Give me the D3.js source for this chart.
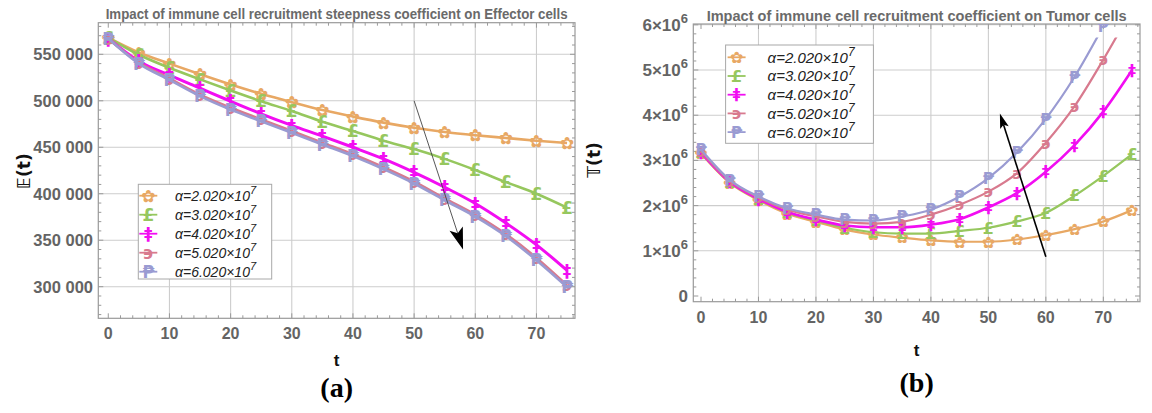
<!DOCTYPE html>
<html>
<head>
<meta charset="utf-8">
<script src="https://cdn.jsdelivr.net/npm/d3@7"></script>
<style>
  html, body { margin: 0; padding: 0; background: #fff; }
  svg { display: block; }
</style>
</head>
<body>
<svg id="fig" width="1152" height="413"></svg>
<script>
// time points (days)
const tVals = [0, 5, 10, 15, 20, 25, 30, 35, 40, 45, 50, 55, 60, 65, 70, 75];

// recruitment coefficient values shown in the legends (mantissa of x10^7)
const alphaLabels = ["2.020", "3.020", "4.020", "5.020", "6.020"];

// series styling keys
const seriesColors = ["#E8A864", "#96C75E", "#F20DF2", "#D87A8E", "#9A9BD2"];
const markerGlyphs = ["\u273F", "\u00A3", "\u2021", "\u03F6", "\u20B1"];

// (a) Effector cells E(t)
const effA2 = [568000, 552000, 540000, 528500, 517500, 507500, 498500, 490000, 483000, 476500, 471000, 466500, 463000, 460000, 457000, 454500];
const effA3 = [568000, 549500, 535500, 523000, 511000, 499500, 489000, 477500, 467500, 457000, 448000, 437500, 425500, 412500, 400000, 385000];
const effA4 = [567000, 542500, 527500, 513500, 499500, 486000, 473500, 462000, 450000, 437500, 423000, 407000, 389500, 368500, 345000, 317500];
const effA5 = [567000, 541000, 524000, 506500, 492500, 480000, 467500, 455000, 442500, 428500, 413000, 395000, 377500, 356500, 331000, 301500];
const effA6 = [567000, 540000, 522500, 505000, 490500, 478000, 465500, 453000, 440500, 426500, 411000, 393000, 375500, 354500, 328500, 299500];

// (b) Tumor cells T(t)
const tumA2 = [3150000, 2500000, 2120000, 1820000, 1640000, 1470000, 1360000, 1290000, 1230000, 1200000, 1200000, 1250000, 1350000, 1480000, 1650000, 1900000];
const tumA3 = [3170000, 2520000, 2140000, 1850000, 1670000, 1510000, 1410000, 1380000, 1380000, 1440000, 1510000, 1650000, 1840000, 2220000, 2660000, 3140000];
const tumA4 = [3180000, 2530000, 2150000, 1860000, 1690000, 1560000, 1520000, 1520000, 1580000, 1700000, 1960000, 2280000, 2750000, 3340000, 4080000, 5000000];
const tumA5 = [3210000, 2550000, 2180000, 1910000, 1760000, 1640000, 1600000, 1640000, 1800000, 2020000, 2310000, 2720000, 3390000, 4200000, 5230000, 6350000];
const tumA6 = [3240000, 2570000, 2200000, 1940000, 1800000, 1690000, 1670000, 1760000, 1910000, 2200000, 2610000, 3180000, 3920000, 4850000, 5970000];

// axis tick values
const tTicks = [0, 10, 20, 30, 40, 50, 60, 70];
const effTicks = [300000, 350000, 400000, 450000, 500000, 550000];
const effTickLabels = ["300 000", "350 000", "400 000", "450 000", "500 000", "550 000"];
const tumTicks = [0, 1000000, 2000000, 3000000, 4000000, 5000000, 6000000];
const tumTickMantissa = ["0", "1", "2", "3", "4", "5", "6"];

// trend arrows (data coordinates: start -> tip)
const effArrow = [[50, 500000], [58, 340000]];
const tumArrow = [[60, 870000], [52, 4040000]];

const svg = d3.select("#fig");
const GRID = "#cdcdcd", FRAME = "#9a9a9a", TICKTXT = "#646464";
const FONT = "'Liberation Sans', Arial, sans-serif";

// reusable plot-marker symbols (one glyph per series, two sizes)
const defs = svg.append("defs");
[["a", 17], ["b", 16]].forEach(([key, size]) => {
  markerGlyphs.forEach((glyph, i) => {
    defs.append("symbol").attr("id", `mk-${key}-${i}`)
      .attr("viewBox", "-12 -12 24 24").attr("width", 24).attr("height", 24)
      .attr("overflow", "visible")
      .append("text").attr("x", 0).attr("y", 0).attr("dy", "0.36em")
      .attr("text-anchor", "middle")
      .attr("font-family", "'DejaVu Sans', sans-serif")
      .attr("font-size", size).attr("font-weight", "bold")
      .attr("fill", seriesColors[i]).text(glyph);
  });
});

function panel(cfg) {
  const g = svg.append("g");
  const x = d3.scaleLinear().domain(cfg.xDomain).range([cfg.left, cfg.right]);
  const y = d3.scaleLinear().domain(cfg.yDomain).range([cfg.bottom, cfg.top]);
  const clipId = cfg.id + "-clip", lineClipId = cfg.id + "-lclip";

  g.append("clipPath").attr("id", clipId).append("rect")
    .attr("x", cfg.left).attr("y", cfg.top)
    .attr("width", cfg.right - cfg.left).attr("height", cfg.bottom - cfg.top);
  const lineTop = cfg.lineMax != null ? y(cfg.lineMax) : cfg.top;
  g.append("clipPath").attr("id", lineClipId).append("rect")
    .attr("x", cfg.left).attr("y", lineTop)
    .attr("width", cfg.right - cfg.left).attr("height", cfg.bottom - lineTop);

  // grid
  g.append("g").selectAll("line").data(tTicks.filter(d => d > 0)).join("line")
    .attr("x1", d => x(d)).attr("x2", d => x(d))
    .attr("y1", cfg.top).attr("y2", cfg.bottom)
    .attr("stroke", GRID).attr("stroke-width", 1.1);
  g.append("g").selectAll("line").data(cfg.gridY).join("line")
    .attr("x1", cfg.left).attr("x2", cfg.right)
    .attr("y1", d => y(d)).attr("y2", d => y(d))
    .attr("stroke", GRID).attr("stroke-width", 1.1);

  // frame ticks (inward on all four sides)
  const tk = g.append("g").attr("stroke", FRAME).attr("stroke-width", 1);
  const minorX = d3.range(0, cfg.xDomain[1], 2);
  minorX.forEach(t => {
    const len = t % 10 === 0 ? 5 : 3;
    tk.append("line").attr("x1", x(t)).attr("x2", x(t)).attr("y1", cfg.bottom).attr("y2", cfg.bottom - len);
    tk.append("line").attr("x1", x(t)).attr("x2", x(t)).attr("y1", cfg.top).attr("y2", cfg.top + len);
  });
  const minorY = d3.range(Math.ceil(cfg.yDomain[0] / cfg.minorStep) * cfg.minorStep, cfg.yDomain[1], cfg.minorStep);
  minorY.forEach(v => {
    const len = Math.abs(v % cfg.majorStep) < 1 ? 5 : 3;
    tk.append("line").attr("y1", y(v)).attr("y2", y(v)).attr("x1", cfg.left).attr("x2", cfg.left + len);
    tk.append("line").attr("y1", y(v)).attr("y2", y(v)).attr("x1", cfg.right).attr("x2", cfg.right - len);
  });

  g.append("rect").attr("x", cfg.left).attr("y", cfg.top)
    .attr("width", cfg.right - cfg.left).attr("height", cfg.bottom - cfg.top)
    .attr("fill", "none").attr("stroke", FRAME).attr("stroke-width", 1.2);

  // series: smooth line plus a glyph marker at every sample
  const line = d3.line().x(d => x(d[0])).y(d => y(d[1])).curve(d3.curveMonotoneX);
  cfg.series.forEach((vals, i) => {
    const pts = vals.map((v, j) => [tVals[j], v]);
    g.append("path").datum(pts).attr("d", line)
      .attr("clip-path", `url(#${lineClipId})`)
      .attr("fill", "none").attr("stroke", seriesColors[i])
      .attr("stroke-width", i === 2 ? cfg.lineW + 0.4 : cfg.lineW)
      .attr("stroke-linejoin", "round");
    g.append("g").attr("clip-path", `url(#${clipId})`)
      .selectAll("use").data(pts).join("use")
      .attr("href", `#mk-${cfg.id === "pa" ? "a" : "b"}-${i}`)
      .attr("x", d => x(d[0]) - 12).attr("y", d => y(d[1]) - 12);
  });

  // x tick labels
  g.append("g").selectAll("text").data(tTicks).join("text")
    .attr("x", d => x(d)).attr("y", cfg.bottom + 21)
    .attr("text-anchor", "middle").attr("font-family", FONT)
    .attr("font-weight", "bold").attr("font-size", 16).attr("fill", TICKTXT)
    .text(d => d);

  // axis label t
  g.append("text").attr("x", (cfg.left + cfg.right) / 2).attr("y", cfg.tLabelY)
    .attr("text-anchor", "middle").attr("font-family", FONT)
    .attr("font-weight", "bold").attr("font-size", 17).attr("fill", "#111").text("t");

  // title
  g.append("text").attr("x", (cfg.left + cfg.right) / 2).attr("y", cfg.titleY)
    .attr("text-anchor", "middle").attr("font-family", FONT)
    .attr("font-weight", "bold").attr("font-size", 14).attr("fill", "#6a6a6a")
    .attr("textLength", cfg.titleLen).attr("lengthAdjust", "spacingAndGlyphs")
    .text(cfg.title);

  // y label
  g.append("text").attr("transform", `translate(${cfg.yLabelX},${cfg.yLabelY}) rotate(-90)`)
    .attr("text-anchor", "middle").attr("font-family", "'DejaVu Sans', sans-serif")
    .attr("font-weight", "bold").attr("font-size", 17).attr("fill", "#111")
    .text(cfg.yLabel);

  // panel letter
  g.append("text").attr("x", (cfg.left + cfg.right) / 2).attr("y", cfg.letterY)
    .attr("text-anchor", "middle").attr("font-family", "'Liberation Serif', 'Times New Roman', serif")
    .attr("font-weight", "bold").attr("font-size", 28).attr("fill", "#000")
    .text(cfg.letter);

  // legend
  const L = cfg.legend;
  const lg = g.append("g");
  lg.append("rect").attr("x", L.x).attr("y", L.y).attr("width", L.w).attr("height", L.h)
    .attr("fill", "#fff").attr("stroke", "#a8a8a8").attr("stroke-width", 1);
  alphaLabels.forEach((a, i) => {
    const cy = L.y + L.row0 + i * L.dy;
    lg.append("line").attr("x1", L.mx - 9).attr("x2", L.mx + 9).attr("y1", cy).attr("y2", cy)
      .attr("stroke", seriesColors[i]).attr("stroke-width", 1.8);
    lg.append("use").attr("href", `#mk-${cfg.id === "pa" ? "a" : "b"}-${i}`)
      .attr("x", L.mx - 12).attr("y", cy - 12);
    const tx = lg.append("text").attr("x", L.tx).attr("y", cy + L.fs * 0.36)
      .attr("font-family", FONT).attr("font-style", "italic")
      .attr("font-size", L.fs).attr("fill", "#222");
    tx.append("tspan").text("\u03B1=" + a + "\u00D710");
    tx.append("tspan").attr("dy", -L.fs * 0.45).attr("font-size", L.fs * 0.8).text("7");
  });

  // trend arrow
  const A = cfg.arrow;
  const p0 = [x(A.pts[0][0]), y(A.pts[0][1])], p1 = [x(A.pts[1][0]), y(A.pts[1][1])];
  const len = Math.hypot(p1[0] - p0[0], p1[1] - p0[1]);
  const u = [(p1[0] - p0[0]) / len, (p1[1] - p0[1]) / len], n = [-u[1], u[0]];
  const back = [p1[0] - A.L * u[0], p1[1] - A.L * u[1]];
  const notch = [p1[0] - (A.L - A.N) * u[0], p1[1] - (A.L - A.N) * u[1]];
  g.append("line").attr("x1", p0[0]).attr("y1", p0[1]).attr("x2", notch[0]).attr("y2", notch[1])
    .attr("stroke", A.color).attr("stroke-width", A.w);
  g.append("path")
    .attr("d", d3.line()([p1, [back[0] + A.W * n[0], back[1] + A.W * n[1]], notch,
                          [back[0] - A.W * n[0], back[1] - A.W * n[1]]]) + "Z")
    .attr("fill", "#000");

  return { g, x, y };
}

// panel (a)
const pa = panel({
  id: "pa", left: 98.3, right: 575, top: 22.7, bottom: 318.3,
  xDomain: [-1.63, 76.3], yDomain: [266000, 584000],
  gridY: effTicks, minorStep: 10000, majorStep: 50000,
  series: [effA2, effA3, effA4, effA5, effA6], lineW: 2.6,
  title: "Impact of immune cell recruitment steepness coefficient on Effector cells",
  titleY: 18.5, titleLen: 462, tLabelY: 366, letterY: 397, letter: "(a)",
  yLabel: "\uD835\uDD3C(t)", yLabelX: 30, yLabelY: 171,
  legend: { x: 138.3, y: 184.3, w: 133.4, h: 94.7, row0: 11.4, dy: 19, mx: 148.3, tx: 175, fs: 14 },
  arrow: { pts: effArrow, L: 22, W: 7, N: 5, w: 0.9, color: "#444" }
});
pa.g.append("g").selectAll("text").data(effTicks).join("text")
  .attr("x", 93).attr("y", d => pa.y(d) + 6)
  .attr("text-anchor", "end").attr("font-family", FONT)
  .attr("font-weight", "bold").attr("font-size", 16.5).attr("fill", TICKTXT)
  .text((d, i) => effTickLabels[i]);

// panel (b)
const pb = panel({
  id: "pb", left: 693.3, right: 1140, top: 24, bottom: 301.7,
  xDomain: [-1.34, 76.38], yDomain: [-126000, 6018000], lineMax: 5720000,
  gridY: tumTicks.filter(d => d > 0), minorStep: 200000, majorStep: 1000000,
  series: [tumA2, tumA3, tumA4, tumA5, tumA6], lineW: 2.2,
  title: "Impact of immune cell recruitment coefficient on Tumor cells",
  titleY: 20.5, titleLen: 420, tLabelY: 356, letterY: 392, letter: "(b)",
  yLabel: "\uD835\uDD4B(t)", yLabelX: 600, yLabelY: 160,
  legend: { x: 725.6, y: 45, w: 147.8, h: 98.3, row0: 12.3, dy: 18.7, mx: 736.6, tx: 767.6, fs: 15 },
  arrow: { pts: tumArrow, L: 15, W: 4.5, N: 3, w: 1.6, color: "#000" }
});
const tl = pb.g.append("g").selectAll("text").data(tumTicks).join("text")
  .attr("x", 688).attr("y", d => pb.y(d) + 6)
  .attr("text-anchor", "end").attr("font-family", FONT)
  .attr("font-weight", "bold").attr("font-size", 17).attr("fill", TICKTXT);
tl.each(function (d, i) {
  const t = d3.select(this);
  if (d === 0) { t.text("0"); return; }
  t.append("tspan").text(tumTickMantissa[i] + "\u00D710");
  t.append("tspan").attr("dy", -8).attr("font-size", 13).text("6");
});
</script>
</body>
</html>
